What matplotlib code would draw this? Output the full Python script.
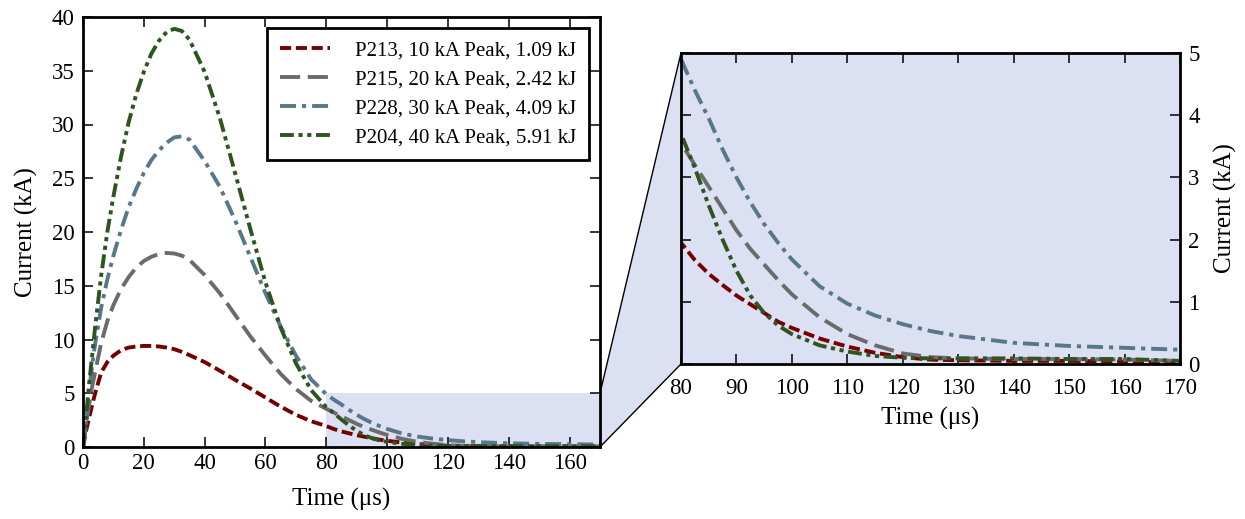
import matplotlib
matplotlib.use("Agg")
import matplotlib.pyplot as plt
from matplotlib.patches import Polygon, Rectangle, ConnectionPatch
from matplotlib.transforms import IdentityTransform

plt.rcParams['font.family'] = ['Liberation Serif', 'DejaVu Serif']
plt.rcParams['lines.scale_dashes'] = False

# ---- data (time in microseconds, current in kA) ----
t = [0, 1, 2, 3, 4, 6, 8, 10, 12.5, 15, 17.5, 20, 22.5, 25, 27.5, 30, 32.5, 35,
     40, 45, 50, 55, 60, 65, 70, 75, 80, 82.5, 85, 87.5, 90, 92.5, 95, 97.5,
     100, 105, 110, 115, 120, 125, 130, 140, 150, 160, 170]

i_p213 = [0, 1.5, 2.7, 3.9, 5.0, 6.95, 7.9, 8.5, 9.0, 9.25, 9.35, 9.4, 9.4, 9.35,
          9.25, 9.1, 8.85, 8.55, 7.9, 7.1, 6.25, 5.45, 4.6, 3.75, 3.0, 2.4, 1.95,
          1.67, 1.45, 1.27, 1.1, 0.96, 0.82, 0.68, 0.58, 0.41, 0.28, 0.18, 0.11,
          0.07, 0.06, 0.05, 0.05, 0.04, 0.02]

i_p215 = [0, 2.0, 3.9, 5.6, 7.0, 9.7, 11.7, 13.2, 14.7, 15.8, 16.7, 17.3, 17.7,
          17.95, 18.05, 18.0, 17.8, 17.4, 16.0, 14.3, 12.3, 10.3, 8.5, 6.8, 5.4,
          4.3, 3.55, 3.2, 2.85, 2.5, 2.15, 1.85, 1.6, 1.35, 1.12, 0.75, 0.48, 0.30,
          0.17, 0.11, 0.09, 0.08, 0.08, 0.07, 0.05]

i_p228 = [0, 2.5, 5.2, 7.6, 9.6, 13.0, 15.6, 17.8, 20.2, 22.3, 24.0, 25.5, 26.7,
          27.6, 28.3, 28.8, 28.9, 28.6, 26.6, 24.2, 21.1, 17.7, 14.3, 11.2, 8.5,
          6.3, 4.9, 4.4, 3.95, 3.45, 3.0, 2.6, 2.25, 1.95, 1.68, 1.25, 0.97,
          0.78, 0.64, 0.53, 0.45, 0.34, 0.29, 0.26, 0.23]

i_p204 = [0, 2.8, 5.8, 8.5, 11.2, 16.0, 20.0, 23.3, 27.0, 30.2, 32.8, 34.9, 36.6,
          37.8, 38.6, 38.9, 38.7, 37.9, 34.9, 30.6, 25.5, 20.3, 15.3, 11.1, 7.8,
          5.3, 3.7, 3.15, 2.55, 2.0, 1.5, 1.1, 0.82, 0.62, 0.48, 0.30, 0.20,
          0.13, 0.10, 0.09, 0.09, 0.09, 0.08, 0.08, 0.05]

labels = ["P213, 10 kA Peak, 1.09 kJ",
          "P215, 20 kA Peak, 2.42 kJ",
          "P228, 30 kA Peak, 4.09 kJ",
          "P204, 40 kA Peak, 5.91 kJ"]
series = [i_p213, i_p215, i_p228, i_p204]
colors = ["#760000", "#6b6b6b", "#587789", "#2e5420"]
dashes = [(8, 3.4), (14.5, 5.5), (11.5, 4.3, 3, 4.3), (10, 3.3, 3, 3.3, 3, 3.3)]

shade = "#dce0f3"
lw = 2.8
fs_tick = 16.5
fs_lab = 18

fig = plt.figure(figsize=(12.45, 5.19), dpi=100)
ax1 = fig.add_axes([83 / 1245, 72 / 519, 517 / 1245, 430 / 519])
ax2 = fig.add_axes([681 / 1245, 155 / 519, 499 / 1245, 311 / 519])

for ax in (ax1, ax2):
    for s in ax.spines.values():
        s.set_linewidth(2)
    ax.tick_params(direction='in', length=7, width=1.1, top=True, right=True,
                   labelsize=fs_tick, pad=6)
ax1.tick_params(axis='x', pad=4)
ax2.tick_params(axis='x', pad=10)

# left: main plot
ax1.add_patch(Rectangle((80, 0), 90, 5, facecolor=shade, edgecolor='none', zorder=0))
for y, c, d, lab in zip(series, colors, dashes, labels):
    ax1.plot(t, y, color=c, lw=lw, dashes=d, label=lab, zorder=2)
ax1.set_xlim(0, 170)
ax1.set_ylim(0, 40)
ax1.set_xticks(range(0, 161, 20))
ax1.set_yticks(range(0, 41, 5))
ax1.set_xlabel("Time (μs)", fontsize=fs_lab, labelpad=10)
ax1.set_ylabel("Current (kA)", fontsize=fs_lab, labelpad=10)
leg = ax1.legend(loc='upper right', fontsize=15, frameon=True, fancybox=False,
                 handlelength=2.4, borderaxespad=0.55, labelspacing=0.45,
                 borderpad=0.6, handletextpad=1.2)
leg.get_frame().set_edgecolor('black')
leg.get_frame().set_linewidth(2)
leg.get_frame().set_alpha(1)

# right: zoom
ax2.set_facecolor(shade)
for y, c, d in zip(series, colors, dashes):
    ax2.plot(t, y, color=c, lw=lw, dashes=d, zorder=2)
ax2.set_xlim(80, 170)
ax2.set_ylim(0, 5)
ax2.set_xticks(range(80, 171, 10))
ax2.set_yticks(range(0, 6))
ax2.yaxis.tick_right()
ax2.tick_params(left=True, right=True, labelleft=False, labelright=True)
ax2.yaxis.set_label_position('right')
ax2.set_xlabel("Time (μs)", fontsize=fs_lab, labelpad=6)
ax2.set_ylabel("Current (kA)", fontsize=fs_lab, labelpad=10)

# connector between zoom region and zoom axes
fig.canvas.draw()
p1 = ax1.transData.transform((170, 5))
p2 = ax1.transData.transform((170, 0))
q1 = ax2.transData.transform((80, 5))
q2 = ax2.transData.transform((80, 0))
poly = Polygon([p1, q1, q2, p2], closed=True, facecolor=shade, edgecolor='none',
               transform=IdentityTransform(), zorder=-1)
fig.add_artist(poly)
for (xa, ya), (xb, yb) in [((170, 5), (80, 5)), ((170, 0), (80, 0))]:
    cp = ConnectionPatch(xyA=(xa, ya), coordsA=ax1.transData,
                         xyB=(xb, yb), coordsB=ax2.transData,
                         color='black', lw=1.0)
    fig.add_artist(cp)

fig.savefig("out.png", dpi=100)
